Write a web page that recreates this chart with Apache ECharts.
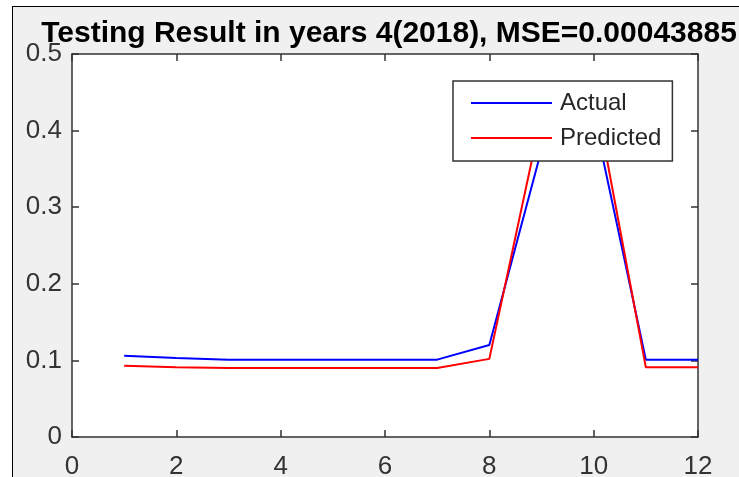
<!DOCTYPE html>
<html>
<head>
<meta charset="utf-8">
<script src="https://cdn.jsdelivr.net/npm/echarts@6/dist/echarts.min.js"></script>
<style>
html,body{margin:0;padding:0;background:#fff;}
#bg{position:absolute;left:12px;top:6px;width:727px;height:471px;background:#f0f0f0;border-left:1px solid #000;border-top:1px solid #000;}
#chart{position:absolute;left:0;top:0;width:739px;height:477px;}
</style>
</head>
<body>
<div id="bg"></div>
<div id="chart"></div>
<script>
const titleText = 'Testing Result in years 4(2018), MSE=0.00043885';
const xValues = [1, 2, 3, 4, 5, 6, 7, 8, 9, 10, 11, 12];
const actual = [0.106, 0.103, 0.101, 0.101, 0.101, 0.101, 0.101, 0.120, 0.375, 0.420, 0.101, 0.101];
const predicted = [0.093, 0.091, 0.090, 0.090, 0.090, 0.090, 0.090, 0.102, 0.420, 0.455, 0.091, 0.091];
const seriesNames = ['Actual', 'Predicted'];
const xTicks = [0, 2, 4, 6, 8, 10, 12];
const yTicks = [0, 0.1, 0.2, 0.3, 0.4, 0.5];

const font = '"Liberation Sans", Arial, Helvetica, sans-serif';
const axisColor = '#333';
const labelColor = '#333';

const chart = echarts.init(document.getElementById('chart'), null, {renderer: 'canvas'});
const pairs = vals => xValues.map((x, i) => [x, vals[i]]);

const xBase = {
  type: 'value', min: xTicks[0], max: xTicks[xTicks.length - 1], interval: xTicks[1] - xTicks[0],
  splitLine: {show: false},
  axisLine: {show: true, onZero: false, lineStyle: {color: axisColor, width: 1.5}},
  axisTick: {show: true, inside: true, length: 7, lineStyle: {color: axisColor, width: 1.5}}
};
const yBase = {
  type: 'value', min: yTicks[0], max: yTicks[yTicks.length - 1], interval: yTicks[1] - yTicks[0],
  splitLine: {show: false},
  axisLine: {show: true, onZero: false, lineStyle: {color: axisColor, width: 1.5}},
  axisTick: {show: true, inside: true, length: 7, lineStyle: {color: axisColor, width: 1.5}}
};

chart.setOption({
  animation: false,
  backgroundColor: 'transparent',
  title: {
    text: titleText, left: 384, top: 14, textAlign: 'center',
    textStyle: {fontFamily: font, fontWeight: 'bold', fontSize: 30, color: '#000'}
  },
  grid: {left: 72, right: 41, top: 54, bottom: 40, show: true, backgroundColor: '#fff', borderWidth: 0,
    containLabel: false, outerBoundsMode: 'none'},
  legend: {
    orient: 'vertical', left: 453, top: 81,
    data: seriesNames,
    backgroundColor: '#fff', borderColor: '#333', borderWidth: 1.5, borderRadius: 0,
    padding: [10, 11, 11, 18],
    itemWidth: 81, itemHeight: 2, itemGap: 11, icon: 'rect',
    textStyle: {fontFamily: font, fontSize: 24, color: '#262626', lineHeight: 24, padding: [0, 0, 0, 3]}
  },
  xAxis: [
    Object.assign({}, xBase, {position: 'bottom',
      axisLabel: {show: true, margin: 17, fontFamily: font, fontSize: 26, color: labelColor,
        formatter: v => String(v)}}),
    Object.assign({}, xBase, {position: 'top', axisLabel: {show: false}})
  ],
  yAxis: [
    Object.assign({}, yBase, {position: 'left',
      axisLabel: {show: true, margin: 10, fontFamily: font, fontSize: 26, color: labelColor,
        padding: [11, 0, 0, 0],
        formatter: v => (v === 0 ? '0' : v.toFixed(1))}}),
    Object.assign({}, yBase, {position: 'right', axisLabel: {show: false}})
  ],
  series: [
    {name: seriesNames[0], type: 'line', data: pairs(actual), symbol: 'none', xAxisIndex: 0, yAxisIndex: 0,
     lineStyle: {color: '#0000ff', width: 2}, itemStyle: {color: '#0000ff'}},
    {name: seriesNames[1], type: 'line', data: pairs(predicted), symbol: 'none', xAxisIndex: 0, yAxisIndex: 0,
     lineStyle: {color: '#ff0000', width: 2}, itemStyle: {color: '#ff0000'}}
  ]
});
</script>
</body>
</html>
